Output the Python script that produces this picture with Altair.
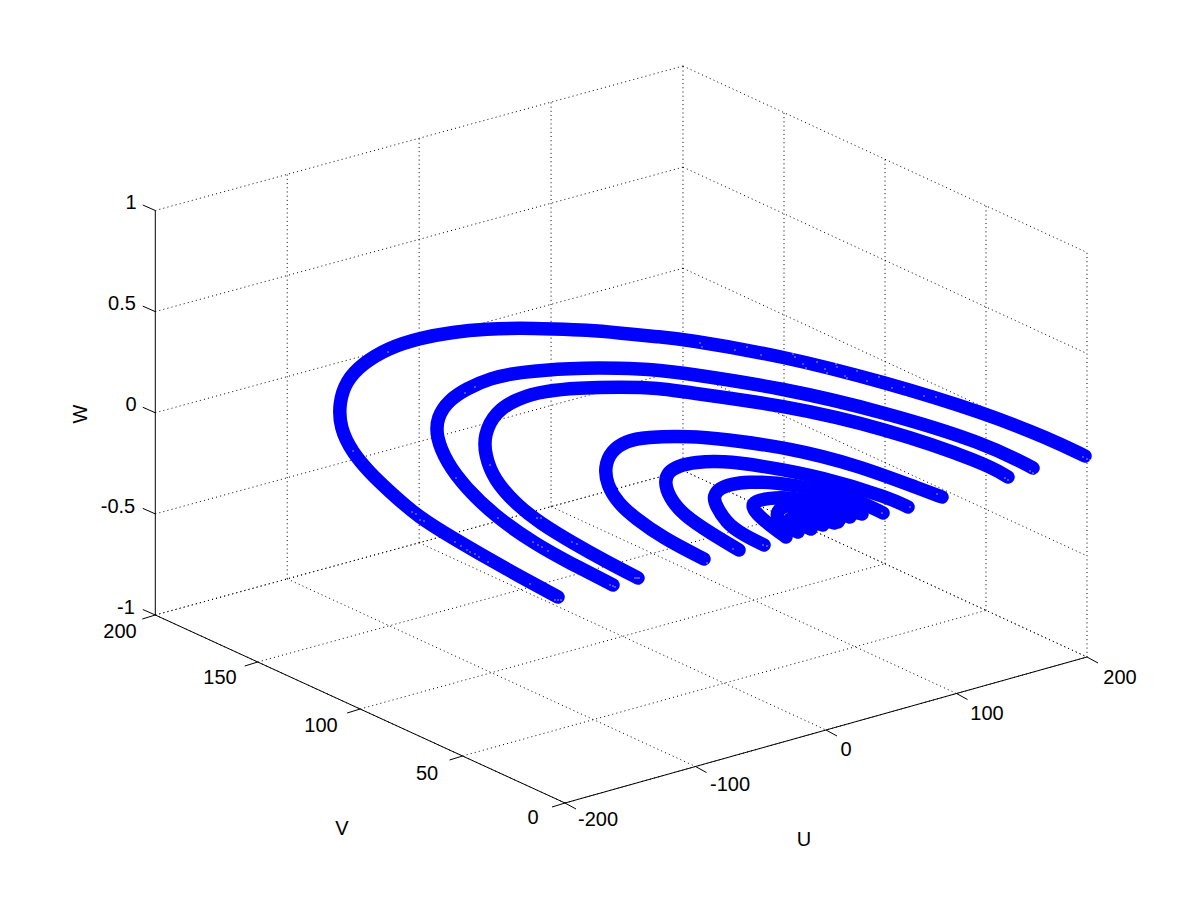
import altair as alt
import pandas as pd

# axis ticks
u_ticks = [-200, -100, 0, 100, 200]
v_ticks = [200, 150, 100, 50, 0]
w_ticks = [-1, -0.5, 0, 0.5, 1]

# box corners as seen in the picture: (U, V) -> screen position of W=-1
corner_left = (155.3, 615.0)   # U=-200 V=200
corner_back = (683.0, 470.5)   # U=200  V=200
corner_front = (565.0, 803.0)  # U=-200 V=0
corner_right = (1087.0, 657.0) # U=200  V=0
w_height = 404.5


def project(u, v, w):
    a = (u + 200) / 400
    b = (200 - v) / 200
    x0 = corner_left[0] + (corner_back[0] - corner_left[0]) * a
    y0 = corner_left[1] + (corner_back[1] - corner_left[1]) * a
    x1 = corner_front[0] + (corner_right[0] - corner_front[0]) * a
    y1 = corner_front[1] + (corner_right[1] - corner_front[1]) * a
    return x0 + (x1 - x0) * b, y0 + (y1 - y0) * b - (w + 1) / 2 * w_height


def seg(rows, p, q):
    rows.append({"x": p[0], "y": p[1], "x2": q[0], "y2": q[1]})


grid = []
for w in w_ticks:
    seg(grid, project(-200, 200, w), project(200, 200, w))
    seg(grid, project(200, 200, w), project(200, 0, w))
for u in u_ticks:
    if u != -200:
        seg(grid, project(u, 200, -1), project(u, 200, 1))
    seg(grid, project(u, 200, -1), project(u, 0, -1))
for v in v_ticks:
    if v != 200:
        seg(grid, project(200, v, -1), project(200, v, 1))
    seg(grid, project(-200, v, -1), project(200, v, -1))

axes = []
seg(axes, project(-200, 200, -1), project(-200, 200, 1))
seg(axes, project(-200, 200, -1), project(-200, 0, -1))
seg(axes, project(-200, 0, -1), project(200, 0, -1))
for w in w_ticks:
    p = project(-200, 200, w)
    seg(axes, p, (p[0] - 12.5, p[1] - 5.5))
for v in v_ticks:
    p = project(-200, v, -1)
    seg(axes, p, (p[0] - 13, p[1] + 4))
for u in u_ticks:
    p = project(u, 0, -1)
    seg(axes, p, (p[0] + 11, p[1] + 6))

# tube centre lines, screen positions
c1x = [558, 530, 487, 453, 418, 388, 370, 352, 340, 339, 346, 362, 388, 420, 453, 487, 520, 553, 587, 620, 660, 683, 783, 884, 985, 1050, 1085]
c1y = [597, 582, 558, 538, 517, 490, 473, 452, 428, 403, 381, 364, 348, 338, 332, 329, 328, 329, 330, 333, 337, 339, 356, 382, 413, 439, 456]
c2x = [613, 570, 537, 497, 465, 447, 436, 437, 449, 466, 490, 520, 570, 620, 660, 683, 783, 884, 985, 1033]
c2y = [585, 563, 545, 518, 487, 463, 437, 417, 400, 389, 378, 372, 368, 368, 370, 373, 388, 412, 443, 468]
c3x = [638, 607, 573, 540, 517, 494, 485, 484, 495, 518, 545, 578, 620, 660, 683, 783, 884, 985, 1008]
c3y = [578, 562, 543, 523, 505, 480, 455, 435, 412, 398, 391, 388, 387, 388, 392, 405, 428, 463, 477]
c4x = [704, 663, 635, 618, 607, 604.5, 611, 626, 645, 690, 723, 790, 857, 923, 942]
c4y = [559, 538, 518, 503, 485, 467, 451, 441, 437, 436, 439, 448, 465, 490, 497]
c5x = [739, 712, 683, 669, 664.5, 668, 678, 695, 723, 757, 823, 890, 908]
c5y = [550, 534, 515, 497, 482, 472, 466, 462, 461, 465, 477, 498, 507]
c6x = [764, 740, 726, 716, 713, 720, 731, 748, 773, 823, 857, 883]
c6y = [545, 533, 522, 506, 496, 488, 484, 482, 482, 490, 500, 513]
c7x = [786, 767, 756, 752, 755, 770, 788, 820, 850, 862]
c7y = [537, 523, 513, 506, 501, 498, 497, 503, 511, 514]
c8x = [798, 784, 777, 777, 785, 805, 830, 850]
c8y = [532, 526, 518, 511, 505, 503, 508, 517]
c9x = [811, 797, 792, 800, 820, 840]
c9y = [529, 523, 515, 509, 509, 519]
c10x = [823, 810, 808, 830, 838]
c10y = [525, 521, 514, 514, 522]
c11x = [834, 815, 835]
c11y = [523, 516, 517]
c12x = [790, 815, 845]
c12y = [519, 510, 510]
curves_x = [c1x, c2x, c3x, c4x, c5x, c6x, c7x, c8x, c9x, c10x, c11x, c12x]
curves_y = [c1y, c2y, c3y, c4y, c5y, c6y, c7y, c8y, c9y, c10y, c11y, c12y]

# gaps between the drawn rings: small white flecks
fleck_x = [555, 558, 561, 610, 613, 615, 635, 637, 639, 1083, 1087, 1090, 1030, 1033, 1037, 1005, 1008,
           707, 733, 763, 767, 937, 910, 882,
           412, 416, 420, 424, 455, 461, 467, 470, 475, 479, 488, 388, 353, 530,
           465, 475, 456, 498, 533, 538, 542, 548, 490, 537, 541, 572, 577,
           700, 702, 735, 747, 761, 793, 795, 803, 806, 817, 825, 827, 836, 837, 845, 847, 857, 867, 879, 892, 904, 924, 936]
fleck_y = [600, 600, 600, 585, 586, 587, 578, 578, 578, 457, 459, 460, 471, 473, 474, 478, 480,
           563, 549, 545, 546, 494, 507, 513,
           512, 514, 520, 521, 542, 546, 550, 552, 554, 557, 562, 352, 451, 584,
           393, 387, 478, 518, 542, 545, 547, 551, 465, 518, 518, 542, 544,
           343, 347, 350, 347, 355, 354, 357, 364, 368, 362, 369, 373, 364, 367, 376, 378, 371, 381, 377, 388, 387, 396, 397]

tube_rows = []
for i, (xs, ys) in enumerate(zip(curves_x, curves_y)):
    for j, (x, y) in enumerate(zip(xs, ys)):
        tube_rows.append({"x": x, "y": y, "curve": i, "order": j})

# labels
label_text = ["1", "0.5", "0", "-0.5", "-1",
              "200", "150", "100", "50", "0",
              "-200", "-100", "0", "100", "200"]
label_x = [131, 122, 131, 118, 126,
           120, 220, 321, 427, 533,
           598, 730, 846, 987, 1120]
label_y = [203, 304, 405, 507, 608,
           632, 678, 726, 774, 818,
           820, 785, 750, 714, 678]
title_text = ["V", "U"]
title_x = [342, 804]
title_y = [829, 840]

labels = pd.DataFrame({"x": label_x, "y": label_y, "t": label_text})
titles = pd.DataFrame({"x": title_x, "y": title_y, "t": title_text})
w_title = pd.DataFrame({"x": [81], "y": [414], "t": ["W"]})
flecks = pd.DataFrame({"x": fleck_x, "y": fleck_y})

X = alt.X("x:Q", scale=alt.Scale(domain=[8, 1192], nice=False, zero=False), axis=None)
Y = alt.Y("y:Q", scale=alt.Scale(domain=[892, 8], nice=False, zero=False), axis=None)

grid_layer = alt.Chart(pd.DataFrame(grid)).mark_rule(
    color="#000000", strokeWidth=1, strokeDash=[1, 3.2]
).encode(x=X, y=Y, x2="x2:Q", y2="y2:Q")
axes_layer = alt.Chart(pd.DataFrame(axes)).mark_rule(color="#000000", strokeWidth=1).encode(
    x=X, y=Y, x2="x2:Q", y2="y2:Q"
)
tube_layer = alt.Chart(pd.DataFrame(tube_rows)).mark_line(
    color="#0000ff", strokeWidth=13.5, strokeCap="round", strokeJoin="round", interpolate="basis"
).encode(x=X, y=Y, detail="curve:N", order="order:Q")
fleck_layer = alt.Chart(flecks).mark_square(color="#ffffff", size=1.5, opacity=1).encode(x=X, y=Y)
font = dict(font="Liberation Sans", fontSize=20, color="#000000", align="center", baseline="middle")
label_layer = alt.Chart(labels).mark_text(**font).encode(x=X, y=Y, text="t:N")
title_layer = alt.Chart(titles).mark_text(**font).encode(x=X, y=Y, text="t:N")
w_layer = alt.Chart(w_title).mark_text(angle=270, **font).encode(x=X, y=Y, text="t:N")

chart = alt.layer(grid_layer, axes_layer, tube_layer, fleck_layer, label_layer, title_layer, w_layer).properties(
    width=1184, height=884, padding=0, autosize=alt.AutoSizeParams(type="none"), background="#ffffff"
).configure_view(stroke=None)

chart.save("out.html", embed_options={"renderer": "svg", "actions": False})
